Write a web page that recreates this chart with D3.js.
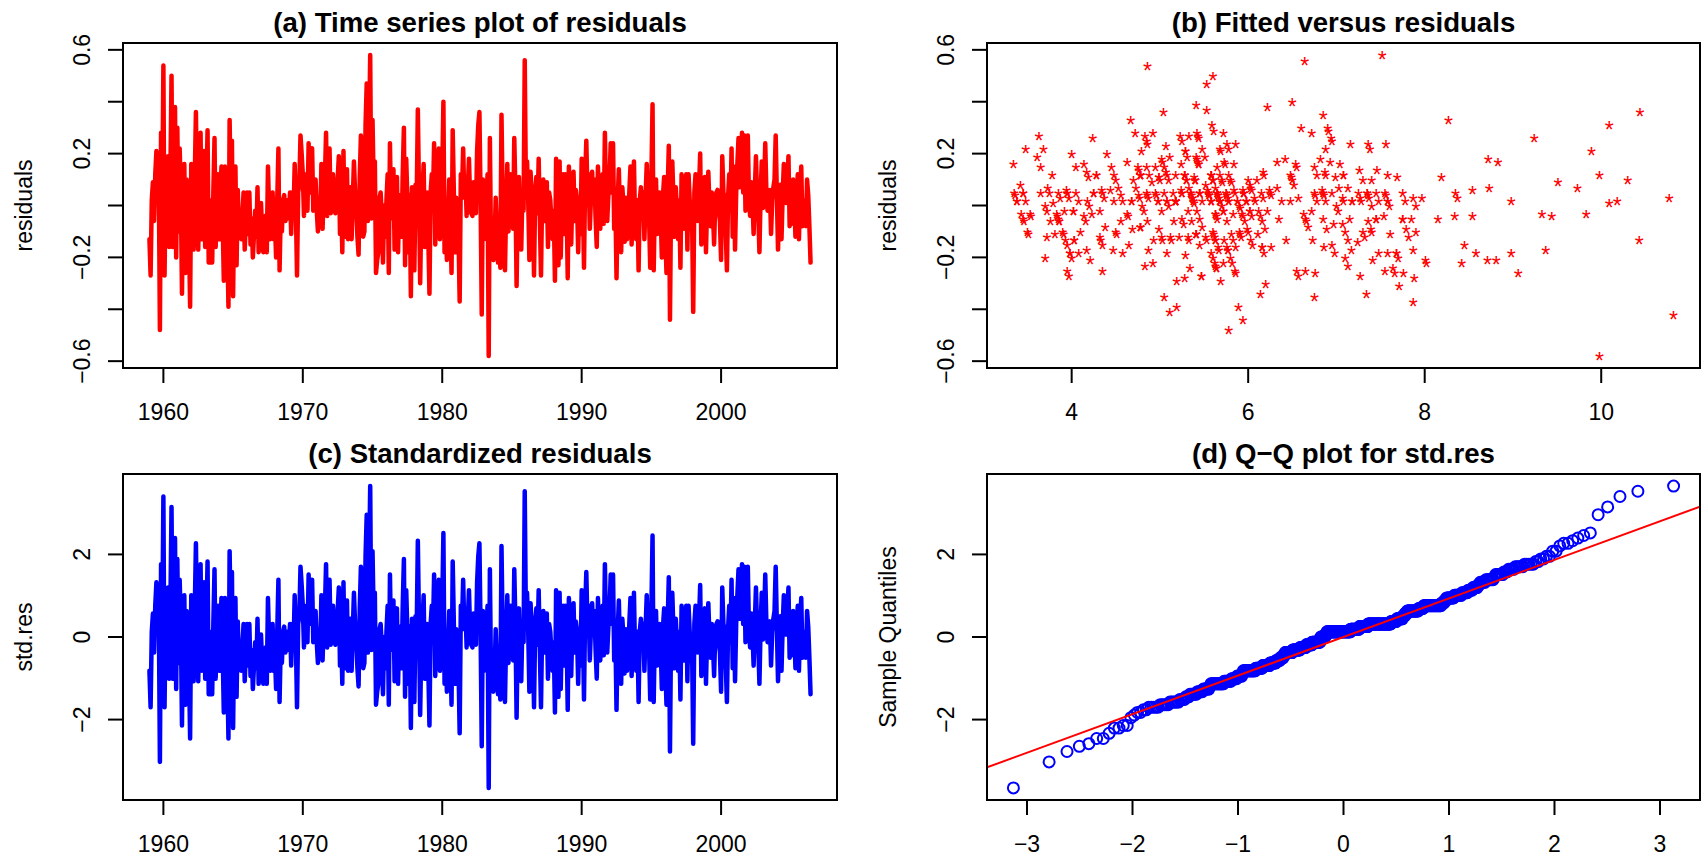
<!DOCTYPE html>
<html>
<head>
<meta charset="utf-8">
<script src="https://cdn.jsdelivr.net/npm/d3@7"></script>
<style>
  body { margin: 0; background: #fff; }
  svg text { font-family: "Liberation Sans", Arial, Helvetica, sans-serif; fill: #000; }
</style>
</head>
<body>
<svg id="chart" width="1701" height="862"></svg>
<script>
// monthly residuals, first value at 1959.0
const startYear = 1959;
const residuals = [
  -0.13,-0.27,0.02,0.09,-0.06,0.12,0.21,0.05,0.15,-0.48,
  0.28,-0.02,0.54,-0.27,0.11,-0.05,0.19,-0.16,0.10,0.50,
  -0.16,0.12,0.38,-0.20,0.30,-0.10,0.22,0.06,-0.34,0.08,
  0.16,-0.26,0.10,0.02,-0.10,-0.39,0.16,0.04,-0.17,0.10,
  0.36,0.00,-0.17,0.12,0.28,-0.13,0.12,0.21,-0.16,0.05,
  0.29,-0.22,0.02,-0.22,-0.22,0.05,0.26,-0.16,0.04,0.12,
  -0.13,0.05,0.15,-0.05,-0.29,0.15,0.02,-0.12,-0.39,0.33,
  0.03,0.25,-0.35,0.04,0.15,-0.23,0.06,-0.10,-0.02,-0.13,
  -0.04,0.05,-0.17,-0.06,0.05,-0.11,0.05,-0.15,-0.05,-0.20,
  -0.11,-0.02,-0.12,0.07,-0.18,-0.06,0.01,-0.10,-0.18,-0.13,
  -0.04,-0.18,0.15,-0.02,-0.13,-0.03,0.05,-0.13,-0.06,-0.20,
  0.02,0.22,-0.25,-0.03,-0.10,0.02,0.04,-0.06,0.02,-0.05,
  -0.03,0.05,-0.11,0.05,-0.04,0.16,0.00,-0.27,0.05,0.08,
  0.27,0.20,0.12,-0.04,0.10,0.12,-0.02,0.24,0.05,0.21,
  0.22,-0.02,0.06,0.10,-0.02,-0.10,0.02,-0.06,0.16,-0.09,
  0.05,0.10,0.28,-0.04,0.12,0.22,-0.03,0.04,0.12,0.02,
  -0.03,0.06,0.10,0.19,-0.11,0.02,-0.18,0.21,-0.12,0.04,
  0.14,-0.13,0.00,0.07,-0.13,0.02,0.17,0.05,0.00,-0.12,
  -0.19,0.11,0.27,-0.02,-0.12,-0.10,0.31,0.47,-0.06,0.25,
  0.58,-0.05,0.33,0.07,0.17,-0.26,-0.21,-0.18,0.03,0.05,
  -0.04,-0.22,0.00,-0.12,0.02,0.12,-0.26,0.24,-0.05,0.05,
  0.14,-0.17,0.02,0.11,-0.18,0.04,-0.05,-0.12,0.12,0.30,
  -0.23,0.18,0.02,-0.18,0.04,-0.35,0.07,-0.05,-0.25,0.08,
  0.02,0.37,0.05,-0.30,-0.02,0.05,0.16,-0.16,0.00,0.05,
  -0.12,-0.34,0.05,0.12,0.02,0.24,-0.15,0.05,0.02,0.22,
  -0.13,0.06,0.12,0.40,-0.18,0.00,-0.21,-0.05,0.10,-0.04,
  -0.26,0.29,0.05,-0.18,0.03,-0.10,-0.11,-0.37,0.12,0.05,
  0.22,0.03,0.11,-0.04,0.06,0.18,0.02,-0.03,-0.04,0.09,
  0.07,-0.03,0.21,0.31,0.36,0.03,-0.42,0.10,-0.13,0.02,
  0.01,0.12,-0.58,0.26,-0.17,-0.18,-0.21,-0.15,0.03,-0.10,
  -0.22,-0.05,-0.24,0.35,0.02,-0.20,-0.25,0.00,0.16,-0.10,
  0.05,0.12,0.02,-0.09,0.26,0.05,-0.31,0.02,0.11,-0.05,
  -0.17,0.05,-0.02,0.56,0.07,0.17,0.02,-0.21,0.13,0.04,
  -0.02,-0.27,0.05,0.11,-0.03,0.18,-0.05,-0.27,0.04,0.10,
  -0.06,0.02,0.09,-0.16,0.05,0.02,-0.06,-0.13,-0.02,-0.29,
  0.18,0.02,-0.23,0.17,-0.20,0.03,0.12,-0.11,0.12,0.02,
  -0.28,0.15,0.02,-0.15,0.05,0.13,-0.06,0.06,0.02,-0.18,
  0.03,-0.11,0.18,0.05,-0.24,0.10,0.25,0.04,0.12,-0.09,
  0.03,0.13,0.02,0.10,-0.05,-0.16,0.15,0.02,-0.09,0.05,
  0.12,-0.07,0.28,0.03,-0.06,0.04,0.10,0.24,0.05,0.24,
  -0.09,0.02,-0.28,0.02,0.14,-0.05,-0.18,0.07,0.00,-0.14,
  0.03,-0.13,-0.07,0.05,0.15,-0.15,0.03,0.17,-0.08,-0.13,
  0.02,-0.25,0.02,0.07,-0.04,0.05,-0.13,0.03,0.16,0.02,
  -0.04,-0.24,0.10,0.39,-0.25,0.02,0.10,-0.11,-0.05,0.05,
  -0.03,-0.20,0.04,0.11,-0.11,-0.26,0.05,0.23,-0.44,0.05,
  0.17,0.02,-0.12,0.07,-0.02,-0.13,0.02,-0.24,0.12,0.02,
  -0.09,0.03,0.12,-0.17,0.12,0.02,-0.09,-0.03,-0.41,0.05,
  0.12,0.02,-0.06,0.06,0.20,-0.15,-0.11,0.03,0.11,-0.18,
  0.02,0.13,0.00,-0.08,0.05,-0.03,-0.15,0.02,0.05,0.06,
  -0.02,-0.06,-0.21,0.19,0.05,0.03,-0.10,-0.25,0.03,0.12,
  -0.02,0.22,-0.12,0.15,-0.17,0.05,0.16,0.26,0.07,0.12,
  0.28,0.05,0.27,-0.02,0.10,0.27,0.02,-0.04,0.09,0.02,
  -0.11,0.05,0.19,0.03,-0.03,-0.18,0.04,0.17,-0.01,0.06,
  0.24,0.05,-0.02,0.03,0.06,-0.11,0.02,0.07,0.10,0.27,
  0.04,-0.17,0.02,0.08,-0.13,0.04,0.16,0.05,0.01,0.10,
  0.19,-0.08,0.02,-0.07,0.10,0.02,-0.12,0.04,0.12,-0.13,
  0.05,0.15,-0.08,-0.06,0.02,-0.08,0.10,0.04,-0.08,-0.22
];

// observed series (rate, %), same months as the residuals; fitted = observed - residual
const observed = [
  5.6,5.2,5.1,5.0,5.1,5.2,5.5,5.7,5.8,5.3,
  5.2,4.8,5.4,5.2,5.1,5.4,5.5,5.6,5.5,6.1,6.1,6.6,
  6.6,6.9,6.9,7.0,7.1,6.9,7.0,6.6,6.7,6.5,6.1,6.0,
  5.8,5.5,5.6,5.6,5.5,5.5,5.4,5.7,5.6,5.4,5.7,5.5,
  5.7,5.9,5.7,5.7,5.9,5.6,5.6,5.4,5.5,5.5,5.7,5.5,
  5.6,5.4,5.4,5.3,5.1,5.2,4.9,5.0,5.1,5.1,4.8,5.0,
  4.9,5.1,4.7,4.8,4.6,4.6,4.4,4.4,4.3,4.2,4.1,4.0,
  4.0,3.8,3.8,3.8,3.9,3.8,3.8,3.8,3.7,3.7,3.6,3.8,
  3.9,3.8,3.8,3.8,3.8,3.9,3.8,3.8,3.8,4.0,3.9,3.8,
  3.7,3.8,3.7,3.5,3.5,3.7,3.7,3.5,3.4,3.4,3.4,3.4,
  3.4,3.4,3.4,3.4,3.4,3.5,3.5,3.5,3.7,3.7,3.5,3.5,
  3.9,4.2,4.4,4.6,4.8,4.9,5.0,5.1,5.4,5.5,5.9,6.1,
  5.9,5.9,6.0,5.9,5.9,5.9,6.0,6.1,6.0,5.8,6.0,6.0,
  5.8,5.7,5.8,5.7,5.7,5.7,5.6,5.6,5.5,5.6,5.3,5.2,
  4.9,5.0,4.9,5.0,4.9,4.9,4.8,4.8,4.8,4.6,4.8,4.9,
  5.1,5.2,5.1,5.1,5.1,5.4,5.5,5.5,5.9,6.0,6.6,7.2,
  8.1,8.1,8.6,8.8,9.0,8.8,8.6,8.4,8.4,8.4,8.3,8.2,
  7.9,7.7,7.6,7.7,7.4,7.6,7.8,7.8,7.6,7.7,7.8,7.8,
  7.5,7.6,7.4,7.2,7.0,7.2,6.9,7.0,6.8,6.8,6.8,6.4,
  6.4,6.3,6.3,6.1,6.0,5.9,6.2,5.9,6.0,5.8,5.9,6.0,
  5.9,5.9,5.8,5.8,5.6,5.7,5.7,6.0,5.9,6.0,5.9,6.0,
  6.3,6.3,6.3,6.9,7.5,7.6,7.8,7.7,7.5,7.5,7.5,7.2,
  7.5,7.4,7.4,7.2,7.5,7.5,7.2,7.4,7.6,7.9,8.3,8.5,
  8.6,8.9,9.0,9.3,9.4,9.6,9.8,9.8,10.1,10.4,10.8,10.8,
  10.4,10.4,10.3,10.2,10.1,10.1,9.4,9.5,9.2,8.8,8.5,8.3,
  8.0,7.8,7.8,7.7,7.4,7.2,7.5,7.5,7.3,7.4,7.2,7.3,
  7.3,7.2,7.2,7.3,7.2,7.4,7.4,7.1,7.1,7.1,7.0,7.0,
  6.7,7.2,7.2,7.1,7.2,7.2,7.0,6.9,7.0,7.0,6.9,6.6,
  6.6,6.6,6.6,6.3,6.3,6.2,6.1,6.0,5.9,6.0,5.8,5.7,
  5.7,5.7,5.7,5.4,5.6,5.4,5.4,5.6,5.4,5.4,5.3,5.3,
  5.4,5.2,5.0,5.2,5.2,5.3,5.2,5.2,5.3,5.3,5.4,5.4,
  5.4,5.3,5.2,5.4,5.4,5.2,5.5,5.7,5.9,5.9,6.2,6.3,
  6.4,6.6,6.8,6.7,6.9,6.9,6.8,6.9,6.9,7.0,7.0,7.3,
  7.3,7.4,7.4,7.4,7.6,7.8,7.7,7.6,7.6,7.3,7.4,7.4,
  7.3,7.1,7.0,7.1,7.1,7.0,6.9,6.8,6.7,6.8,6.6,6.5,
  6.6,6.6,6.5,6.4,6.1,6.1,6.1,6.0,5.9,5.8,5.6,5.5,
  5.6,5.4,5.4,5.8,5.6,5.6,5.7,5.7,5.6,5.5,5.6,5.6,
  5.6,5.5,5.5,5.6,5.6,5.3,5.5,5.1,5.2,5.2,5.4,5.4,
  5.3,5.2,5.2,5.1,4.9,5.0,4.9,4.8,4.9,4.7,4.6,4.7,
  4.6,4.6,4.7,4.3,4.4,4.5,4.5,4.5,4.6,4.5,4.4,4.4,
  4.3,4.4,4.2,4.3,4.2,4.3,4.3,4.2,4.2,4.1,4.1,4.0,
  4.0,4.1,4.0,3.8,4.0,4.0,4.0,4.1,3.9,3.9,3.9,3.9,
  4.2,4.2,4.3,4.4,4.3,4.5,4.6,4.9,5.0,5.3,5.5,5.7,
  5.7,5.7,5.7,5.9,5.8,5.8,5.8,5.7,5.7,5.7,5.9,6.0,
  5.8,5.9,5.9,6.0,6.1,6.3,6.2,6.1,6.1,6.0,5.8,5.7,
  5.7,5.6,5.8,5.6,5.6,5.6,5.5,5.4,5.4,5.5,5.4,5.4,
  5.3,5.4,5.2,5.2,5.1,5.0,5.0,4.9,5.0,5.0,5.0,4.9,
  4.7,4.8,4.7,4.7,4.6,4.6,4.7,4.7
];

const yearTicks = [1960, 1970, 1980, 1990, 2000];
const residTicks = [-0.6, -0.4, -0.2, 0, 0.2, 0.4, 0.6];
const residLabels = [-0.6, -0.2, 0.2, 0.6];
const fittedTicks = [4, 6, 8, 10];
const stdTicks = [-2, 0, 2];
const qqTicks = [-3, -2, -1, 0, 1, 2, 3];

const svg = d3.select("#chart");

const fontSize = 23;
const titleSize = 27.6;

// plot regions in pixels
const boxes = {
  a: { x0: 123, x1: 837, y0: 43, y1: 368 },
  b: { x0: 987, x1: 1700, y0: 43, y1: 368 },
  c: { x0: 123, x1: 837, y0: 474, y1: 800 },
  d: { x0: 987, x1: 1700, y0: 474, y1: 800 }
};

// R style axis range: data range plus 4% on each side
function rDomain(values) {
  const [lo, hi] = d3.extent(values);
  const pad = (hi - lo) * 0.04;
  return [lo - pad, hi + pad];
}

function fmt(v) {
  return String(v).replace("-", "\u2212");
}

// inverse normal CDF (Acklam)
function qnorm(p) {
  const a = [-3.969683028665376e+01, 2.209460984245205e+02, -2.759285104469687e+02, 1.383577518672690e+02, -3.066479806614716e+01, 2.506628277459239e+00];
  const b = [-5.447609879822406e+01, 1.615858368580409e+02, -1.556989798598866e+02, 6.680131188771972e+01, -1.328068155288572e+01];
  const c = [-7.784894002430293e-03, -3.223964580411365e-01, -2.400758277161838e+00, -2.549732539343734e+00, 4.374664141464968e+00, 2.938163982698783e+00];
  const d = [7.784695709041462e-03, 3.224671290700398e-01, 2.445134137142996e+00, 3.754408661907416e+00];
  const pl = 0.02425;
  let q, r;
  if (p < pl) {
    q = Math.sqrt(-2 * Math.log(p));
    return (((((c[0]*q+c[1])*q+c[2])*q+c[3])*q+c[4])*q+c[5]) / ((((d[0]*q+d[1])*q+d[2])*q+d[3])*q+1);
  }
  if (p > 1 - pl) {
    q = Math.sqrt(-2 * Math.log(1 - p));
    return -(((((c[0]*q+c[1])*q+c[2])*q+c[3])*q+c[4])*q+c[5]) / ((((d[0]*q+d[1])*q+d[2])*q+d[3])*q+1);
  }
  q = p - 0.5; r = q * q;
  return (((((a[0]*r+a[1])*r+a[2])*r+a[3])*r+a[4])*r+a[5])*q / (((((b[0]*r+b[1])*r+b[2])*r+b[3])*r+b[4])*r+1);
}

// derived series
const times = residuals.map((d, i) => startYear + i / 12);
const fitted = residuals.map((d, i) => observed[i] - d);
const sdRes = d3.deviation(residuals);
const stdRes = residuals.map(d => d / sdRes);

function frame(key, xScale, yScale, xTicks, yTicks, yLabels, title, ylab) {
  const bx = boxes[key];
  const g = svg.append("g");

  g.append("rect")
    .attr("x", bx.x0).attr("y", bx.y0)
    .attr("width", bx.x1 - bx.x0).attr("height", bx.y1 - bx.y0)
    .attr("fill", "none").attr("stroke", "#000").attr("stroke-width", 2);

  // x axis
  g.selectAll(".xt").data(xTicks).enter().append("line")
    .attr("x1", d => xScale(d)).attr("x2", d => xScale(d))
    .attr("y1", bx.y1).attr("y2", bx.y1 + 15)
    .attr("stroke", "#000").attr("stroke-width", 2);
  g.selectAll(".xl").data(xTicks).enter().append("text")
    .attr("x", d => xScale(d)).attr("y", bx.y1 + 52)
    .attr("text-anchor", "middle").attr("font-size", fontSize)
    .text(d => fmt(d));

  // y axis
  g.selectAll(".yt").data(yTicks).enter().append("line")
    .attr("x1", bx.x0 - 15).attr("x2", bx.x0)
    .attr("y1", d => yScale(d)).attr("y2", d => yScale(d))
    .attr("stroke", "#000").attr("stroke-width", 2);
  g.selectAll(".yl").data(yLabels).enter().append("text")
    .attr("transform", d => "translate(" + (bx.x0 - 33) + "," + yScale(d) + ") rotate(-90)")
    .attr("text-anchor", "middle").attr("font-size", fontSize)
    .text(d => fmt(d));

  g.append("text")
    .attr("x", (bx.x0 + bx.x1) / 2).attr("y", bx.y0 - 11)
    .attr("text-anchor", "middle").attr("font-size", titleSize).attr("font-weight", "bold")
    .text(title);

  g.append("text")
    .attr("transform", "translate(" + (bx.x0 - 91) + "," + (bx.y0 + bx.y1) / 2 + ") rotate(-90)")
    .attr("text-anchor", "middle").attr("font-size", fontSize)
    .text(ylab);

  // clip for marks
  svg.append("clipPath").attr("id", "clip-" + key)
    .append("rect")
    .attr("x", bx.x0).attr("y", bx.y0)
    .attr("width", bx.x1 - bx.x0).attr("height", bx.y1 - bx.y0);
}

// (a) time series of residuals
const xTime = d3.scaleLinear().domain(rDomain(times)).range([boxes.a.x0, boxes.a.x1]);
const yRes = d3.scaleLinear().domain(rDomain(residuals)).range([boxes.a.y1, boxes.a.y0]);

svg.append("path")
  .datum(residuals)
  .attr("fill", "none").attr("stroke", "#FF0000").attr("stroke-width", 4.5)
  .attr("stroke-linejoin", "round").attr("stroke-linecap", "round")
  .attr("d", d3.line().x((d, i) => xTime(times[i])).y(d => yRes(d)));
frame("a", xTime, yRes, yearTicks, residTicks, residLabels, "(a) Time series plot of residuals", "residuals");

// (b) fitted versus residuals
const xFit = d3.scaleLinear().domain(rDomain(fitted)).range([boxes.b.x0, boxes.b.x1]);
const yRes2 = d3.scaleLinear().domain(rDomain(residuals)).range([boxes.b.y1, boxes.b.y0]);

svg.append("g").selectAll("text").data(residuals).enter().append("text")
  .attr("x", (d, i) => xFit(fitted[i])).attr("y", d => yRes2(d))
  .attr("dy", "0.58em")
  .attr("text-anchor", "middle").attr("font-size", fontSize)
  .style("fill", "#FF0000")
  .text("*");
frame("b", xFit, yRes2, fittedTicks, residTicks, residLabels, "(b) Fitted versus residuals", "residuals");

// (c) standardized residuals
const xTime2 = d3.scaleLinear().domain(rDomain(times)).range([boxes.c.x0, boxes.c.x1]);
const yStd = d3.scaleLinear().domain(rDomain(stdRes)).range([boxes.c.y1, boxes.c.y0]);

svg.append("path")
  .datum(stdRes)
  .attr("fill", "none").attr("stroke", "#0000FF").attr("stroke-width", 4.5)
  .attr("stroke-linejoin", "round").attr("stroke-linecap", "round")
  .attr("d", d3.line().x((d, i) => xTime2(times[i])).y(d => yStd(d)));
frame("c", xTime2, yStd, yearTicks, stdTicks, stdTicks, "(c) Standardized residuals", "std.res");

// (d) normal Q-Q plot
const n = stdRes.length;
const sample = stdRes.slice().sort(d3.ascending);
const theo = sample.map((d, i) => qnorm((i + 0.5) / n));
const xQ = d3.scaleLinear().domain(rDomain(theo)).range([boxes.d.x0, boxes.d.x1]);
const yQ = d3.scaleLinear().domain(rDomain(sample)).range([boxes.d.y1, boxes.d.y0]);

svg.append("g").selectAll("circle").data(sample).enter().append("circle")
  .attr("cx", (d, i) => xQ(theo[i])).attr("cy", d => yQ(d))
  .attr("r", 5.5)
  .attr("fill", "none").attr("stroke", "#0000FF").attr("stroke-width", 2);

// qqline through the quartiles
const q1 = d3.quantileSorted(sample, 0.25), q3 = d3.quantileSorted(sample, 0.75);
const z1 = qnorm(0.25), z3 = qnorm(0.75);
const slope = (q3 - q1) / (z3 - z1);
const intercept = q1 - slope * z1;
const xd = xQ.domain();
svg.append("line")
  .attr("clip-path", "url(#clip-d)")
  .attr("x1", xQ(xd[0])).attr("y1", yQ(intercept + slope * xd[0]))
  .attr("x2", xQ(xd[1])).attr("y2", yQ(intercept + slope * xd[1]))
  .attr("stroke", "#FF0000").attr("stroke-width", 2);
frame("d", xQ, yQ, qqTicks, stdTicks, stdTicks, "(d) Q\u2212Q plot for std.res", "Sample Quantiles");
</script>
</body>
</html>
